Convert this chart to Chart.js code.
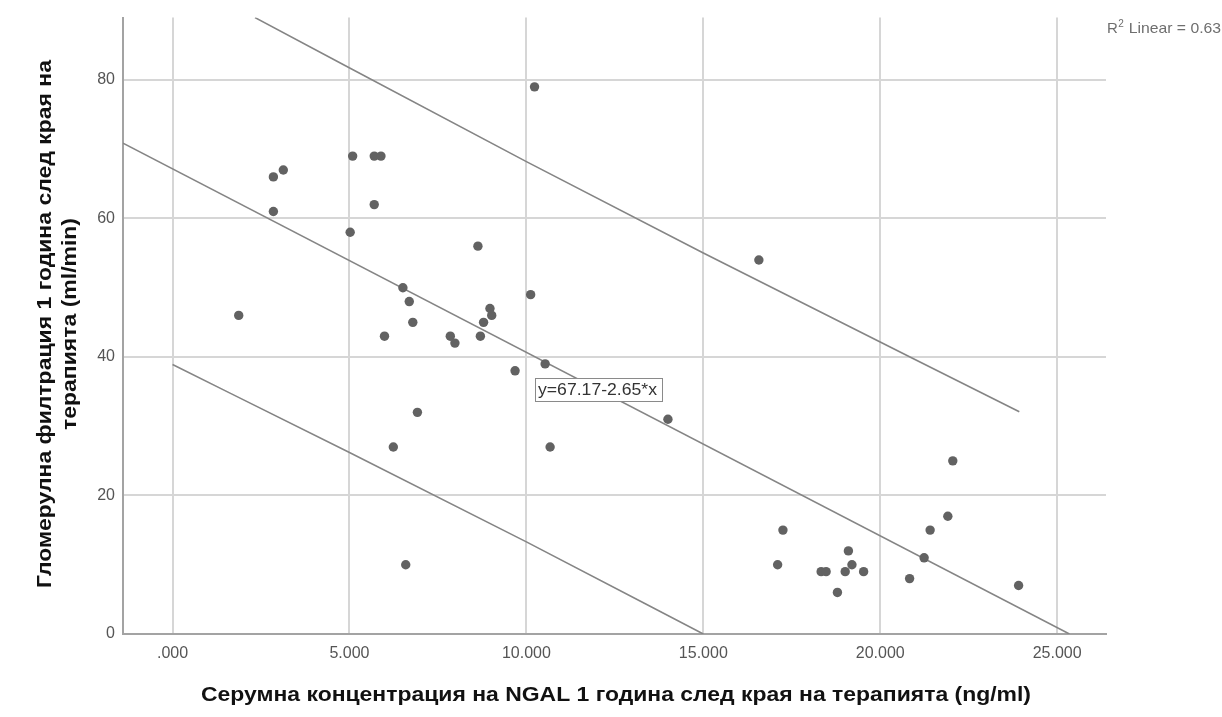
<!DOCTYPE html>
<html>
<head>
<meta charset="utf-8">
<script src="https://cdn.jsdelivr.net/npm/chart.js@4.4.1/dist/chart.umd.min.js"></script>
<style>
  html, body { margin: 0; padding: 0; background: #ffffff; }
  #wrap { position: relative; width: 1222px; height: 717px; }
</style>
</head>
<body>
<div id="wrap"><canvas id="c" width="1222" height="717"></canvas></div>
<script>
// Serum NGAL one year after end of therapy (ng/ml)
const ngal = [1.87, 2.85, 3.13, 2.85, 5.02, 5.09, 5.70, 5.89, 5.70, 6.51,
              6.69, 6.79, 5.99, 6.24, 6.92, 6.59, 7.85, 7.98, 8.63, 8.70,
              8.79, 8.97, 9.02, 9.68, 10.12, 10.23, 10.53, 10.67, 14.00, 16.57,
              17.10, 17.25, 18.33, 18.47, 18.79, 19.01, 19.10, 19.20, 19.53, 20.83,
              21.24, 21.41, 21.91, 22.05, 23.91];
// Glomerular filtration one year after end of therapy (ml/min)
const gfr  = [46, 66, 67, 61, 58, 69, 69, 69, 62, 50,
              48, 45, 43, 27, 32, 10, 43, 42, 56, 43,
              45, 47, 46, 38, 49, 79, 39, 27, 31, 54,
              10, 15, 9, 9, 6, 9, 12, 10, 9, 8,
              11, 15, 17, 25, 7];

// Linear fit and its individual prediction band
const fitIntercept = 67.17;
const fitSlope = -2.65;
const rSquaredText = '0.63';
const upperX = [2.33, 10, 15, 23.93];
const upperY = [89.0, 68.2, 55.0, 32.1];
const lowerX = [0, 5, 10, 15];
const lowerY = [38.9, 26.2, 13.3, 0];

// Axes
const xTickValues = [0, 5, 10, 15, 20, 25];
const xTickLabels = ['.000', '5.000', '10.000', '15.000', '20.000', '25.000'];
const yTickValues = [0, 20, 40, 60, 80];
const yTickLabels = ['0', '20', '40', '60', '80'];
const xRange = [-1.40, 26.38];
const yRange = [0, 89];

const xTitle = 'Серумна концентрация на NGAL 1 година след края на терапията (ng/ml)';
const yTitleLines = ['Гломерулна филтрация 1 година след края на', 'терапията (ml/min)'];
const equationText = 'y=67.17-2.65*x';

const zip = (xs, ys) => xs.map((x, i) => ({ x: x, y: ys[i] }));
const fitEndX = fitIntercept / -fitSlope;
const fitLine = [xRange[0], fitEndX].map(x => ({ x: x, y: fitIntercept + fitSlope * x }));

const FONT = '"Liberation Sans", Arial, Helvetica, sans-serif';

// draws text stretched horizontally to a given width, starting at x (left) or centred on x
function fitText(ctx, text, x, y, width, center) {
  const w = ctx.measureText(text).width;
  const k = width / w;
  ctx.save();
  ctx.translate(center ? x - width / 2 : x, y);
  ctx.scale(k, 1);
  ctx.textAlign = 'left';
  ctx.fillText(text, 0, 0);
  ctx.restore();
}

const textPlugin = {
  id: 'textPlugin',
  afterDraw(chart) {
    const ctx = chart.ctx;
    ctx.save();
    ctx.textBaseline = 'alphabetic';

    // axis titles
    ctx.fillStyle = '#111111';
    ctx.font = 'bold 21px ' + FONT;
    fitText(ctx, xTitle, 616, 701, 830, true);

    ctx.save();
    ctx.translate(0, 324);
    ctx.rotate(-Math.PI / 2);
    fitText(ctx, yTitleLines[0], 0, 51, 528, true);
    const w2 = ctx.measureText(yTitleLines[1]).width * (528 / ctx.measureText(yTitleLines[0]).width);
    fitText(ctx, yTitleLines[1], 0, 76, w2, true);
    ctx.restore();

    // R² note
    ctx.fillStyle = '#6e6e6e';
    ctx.font = '15px ' + FONT;
    ctx.textAlign = 'left';
    ctx.fillText('R', 1107, 33);
    const rw = ctx.measureText('R').width;
    ctx.font = '10px ' + FONT;
    ctx.fillText('2', 1107 + rw + 0.5, 27);
    const sw = ctx.measureText('2').width;
    ctx.font = '15px ' + FONT;
    const restX = 1107 + rw + sw + 1;
    fitText(ctx, ' Linear = ' + rSquaredText, restX, 33, 1221 - restX, false);

    // fit equation box
    ctx.font = '16px ' + FONT;
    const bx = 535, by = 378, bw = 127, bh = 23;
    ctx.fillStyle = '#ffffff';
    ctx.fillRect(bx, by, bw, bh);
    ctx.strokeStyle = '#8a8a8a';
    ctx.lineWidth = 1;
    ctx.strokeRect(bx + 0.5, by + 0.5, bw, bh);
    ctx.fillStyle = '#333333';
    fitText(ctx, equationText, bx + 3, 395, 119, false);
    ctx.restore();
  }
};

new Chart(document.getElementById('c'), {
  type: 'scatter',
  data: {
    datasets: [
      {
        label: 'fit',
        type: 'line',
        data: fitLine,
        borderColor: '#858585',
        borderWidth: 1.6,
        pointRadius: 0,
        fill: false,
        clip: 0,
        order: 2
      },
      {
        label: 'upper',
        type: 'line',
        data: zip(upperX, upperY),
        borderColor: '#858585',
        borderWidth: 1.6,
        pointRadius: 0,
        cubicInterpolationMode: 'monotone',
        fill: false,
        clip: 0,
        order: 2
      },
      {
        label: 'lower',
        type: 'line',
        data: zip(lowerX, lowerY),
        borderColor: '#858585',
        borderWidth: 1.6,
        pointRadius: 0,
        cubicInterpolationMode: 'monotone',
        fill: false,
        clip: 0,
        order: 2
      },
      {
        label: 'GFR',
        data: zip(ngal, gfr),
        backgroundColor: '#626262',
        borderWidth: 0,
        pointRadius: 4.7,
        pointHoverRadius: 4.7,
        order: 1
      }
    ]
  },
  options: {
    responsive: false,
    animation: false,
    devicePixelRatio: 1,
    layout: { padding: { top: 14, right: 116, left: 0, bottom: 0 } },
    plugins: { legend: { display: false }, tooltip: { enabled: false } },
    scales: {
      x: {
        type: 'linear',
        min: xRange[0],
        max: xRange[1],
        afterBuildTicks: s => { s.ticks = xTickValues.map(v => ({ value: v })); },
        afterFit: s => { s.height = 83; },
        grid: { color: '#d6d6d6', lineWidth: 2, drawTicks: false },
        border: { color: '#a3a3a3', width: 2 },
        ticks: {
          padding: 10,
          color: '#555555',
          font: { size: 16, family: FONT },
          maxRotation: 0,
          callback: v => xTickLabels[xTickValues.indexOf(v)]
        }
      },
      y: {
        type: 'linear',
        min: yRange[0],
        max: yRange[1],
        afterBuildTicks: s => { s.ticks = yTickValues.map(v => ({ value: v })); },
        afterFit: s => { s.width = 123; },
        grid: { color: '#d6d6d6', lineWidth: 2, drawTicks: false },
        border: { color: '#a3a3a3', width: 2 },
        ticks: {
          padding: 8,
          color: '#555555',
          font: { size: 16, family: FONT },
          callback: v => yTickLabels[yTickValues.indexOf(v)]
        }
      }
    }
  },
  plugins: [textPlugin]
});
</script>
</body>
</html>
